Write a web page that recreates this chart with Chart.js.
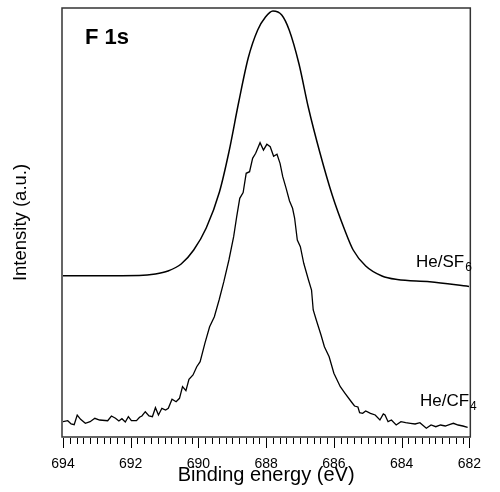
<!doctype html>
<html lang="en">
<meta charset="utf-8">

<head>
    <script src="https://cdn.jsdelivr.net/npm/chart.js"></script>
</head>

<style>
    body {
        margin: 0;
        background: #fff;
    }

    #wrap {
        width: 500px;
        height: 492px;
    }
</style>

<body>

    <div id="wrap">
        <canvas id="xpsChart" width="500" height="492"></canvas>
    </div>

    <script>
        // F 1s spectra, binding energy (eV) vs intensity (a.u.)
        const sf6Energy = [694.0, 692.96, 691.75, 691.27, 690.90, 690.51, 690.14, 689.77, 689.38, 689.10,
            688.81, 688.53, 688.25, 688.02, 687.80, 687.54, 687.32, 687.03, 686.75, 686.41,
            686.05, 685.68, 685.43, 685.06, 684.58, 684.13, 683.17, 682.01];
        const sf6Intensity = [161.3, 161.3, 161.5, 163, 166, 173, 187, 209, 245, 285,
            335, 379, 407, 420, 426, 422, 407, 373, 329, 284,
            242, 207, 187, 171, 161, 157.5, 155.3, 150.5];

        const cf4Energy = [694.00, 693.86, 693.76, 693.67, 693.58, 693.48, 693.34, 693.20, 693.06, 692.92,
            692.68, 692.57, 692.45, 692.35, 692.26, 692.16, 692.07, 691.98, 691.83, 691.74,
            691.67, 691.57, 691.46, 691.36, 691.27, 691.18, 691.08, 690.97, 690.89, 690.78,
            690.66, 690.56, 690.47, 690.37, 690.28, 690.16, 690.05, 689.95, 689.81, 689.67,
            689.53, 689.39, 689.25, 689.10, 688.96, 688.87, 688.78, 688.68, 688.59, 688.49,
            688.40, 688.31, 688.18, 688.08, 687.98, 687.88, 687.78, 687.68, 687.59, 687.51,
            687.41, 687.31, 687.22, 687.16, 687.08, 686.99, 686.89, 686.75, 686.66, 686.61,
            686.52, 686.38, 686.28, 686.14, 686.00, 685.81, 685.67, 685.48, 685.39, 685.29,
            685.24, 685.15, 685.06, 684.92, 684.78, 684.64, 684.54, 684.49, 684.40, 684.30,
            684.16, 684.02, 683.88, 683.74, 683.60, 683.46, 683.27, 683.13, 682.99, 682.85,
            682.71, 682.57, 682.47, 682.33, 682.19, 682.05];
        const cf4Intensity = [15.3, 16.3, 13.0, 12.3, 22.0, 17.7, 13.7, 15.3, 18.7, 17.0,
            16.3, 21.0, 18.7, 16.0, 18.3, 15.0, 20.3, 16.3, 16.3, 19.7,
            21.0, 25.3, 21.0, 20.3, 29.3, 22.0, 28.7, 27.0, 28.7, 37.7,
            35.3, 38.7, 50.3, 46.3, 57.7, 62.0, 70.3, 75.3, 93.7, 110.3,
            120.3, 137.0, 155.3, 177.0, 200.3, 220.3, 238.7, 244.5, 263.7, 265.3,
            278.7, 283.7, 294.3, 287.0, 292.7, 290.3, 280.7, 282.8, 273.7, 260.3,
            248.7, 236.0, 228.7, 219.0, 197.0, 190.3, 173.7, 157.0, 147.0, 127.0,
            117.0, 102.0, 90.3, 80.3, 63.7, 50.3, 43.7, 35.0, 31.0, 30.0,
            24.3, 23.7, 26.0, 23.7, 22.0, 17.0, 23.0, 22.0, 15.3, 17.0,
            12.0, 15.3, 14.3, 13.7, 13.0, 14.3, 8.7, 12.0, 10.3, 12.0,
            11.0, 12.7, 13.7, 12.0, 11.0, 9.7];

        const tickLabels = [694, 692, 690, 688, 686, 684, 682];

        const FONT = "'Liberation Sans', Arial, sans-serif";

        function toPoints(xs, ys) {
            return xs.map((x, i) => ({ x: x, y: ys[i] }));
        }

        // frame, minor ticks and the in-plot labels
        const decor = {
            id: 'decor',
            afterDraw(chart) {
                const ctx = chart.ctx;
                const a = chart.chartArea;
                const xs = chart.scales.x;
                ctx.save();

                ctx.strokeStyle = '#333';
                ctx.lineWidth = 1.5;
                ctx.strokeRect(a.left - 1, a.top, a.right - a.left + 2, a.bottom - a.top);

                ctx.strokeStyle = '#000';
                ctx.lineWidth = 1;
                for (let i = 0; i <= 60; i++) {
                    const v = 682 + i * 0.2;
                    const px = Math.round(xs.getPixelForValue(v)) + 0.5;
                    const len = (i % 10 === 0) ? 10 : 6;
                    ctx.beginPath();
                    ctx.moveTo(px, a.bottom + 1);
                    ctx.lineTo(px, a.bottom + 1 + len);
                    ctx.stroke();
                }

                ctx.fillStyle = '#000';
                ctx.textBaseline = 'alphabetic';
                ctx.textAlign = 'left';
                ctx.font = 'bold 22px ' + FONT;
                ctx.fillText('F 1s', 85, 43.5);

                ctx.font = '17px ' + FONT;
                ctx.fillText('He/SF', 416, 266.5);
                let w = ctx.measureText('He/SF').width;
                ctx.font = '12px ' + FONT;
                ctx.fillText('6', 416 + w + 1, 270.5);

                ctx.font = '17px ' + FONT;
                ctx.fillText('He/CF', 420, 406);
                w = ctx.measureText('He/CF').width;
                ctx.font = '12px ' + FONT;
                ctx.fillText('4', 420 + w + 1, 410);

                ctx.restore();
            }
        };

        const chartData = {
            datasets: [
                {
                    label: 'He/SF6',
                    data: toPoints(sf6Energy, sf6Intensity),
                    borderColor: '#000',
                    borderWidth: 1.5,
                    pointRadius: 0,
                    cubicInterpolationMode: 'monotone',
                    fill: false
                },
                {
                    label: 'He/CF4',
                    data: toPoints(cf4Energy, cf4Intensity),
                    borderColor: '#000',
                    borderWidth: 1.3,
                    pointRadius: 0,
                    tension: 0,
                    fill: false
                }
            ]
        };

        const config = {
            type: 'line',
            data: chartData,
            options: {
                responsive: false,
                animation: false,
                layout: {
                    padding: { top: 8, right: 12, left: 0, bottom: 0 }
                },
                plugins: {
                    legend: { display: false },
                    tooltip: { enabled: false }
                },
                scales: {
                    x: {
                        type: 'linear',
                        min: 682,
                        max: 694,
                        reverse: true,
                        afterFit: (scale) => { scale.height = 55; },
                        afterBuildTicks: (scale) => {
                            scale.ticks = tickLabels.map(v => ({ value: v }));
                        },
                        grid: { display: false, drawTicks: false },
                        border: { display: false },
                        ticks: {
                            padding: 19,
                            maxRotation: 0,
                            autoSkip: false,
                            color: '#000',
                            font: { family: FONT, size: 14 },
                            callback: (v) => String(v)
                        },
                        title: {
                            display: true,
                            text: 'Binding energy (eV)',
                            color: '#000',
                            font: { family: FONT, size: 20 },
                            padding: { top: 0, bottom: 5 }
                        }
                    },
                    y: {
                        min: 0,
                        max: 429,
                        afterFit: (scale) => { scale.width = 63; },
                        grid: { display: false },
                        border: { display: false },
                        ticks: { display: false },
                        title: {
                            display: true,
                            text: 'Intensity (a.u.)',
                            color: '#000',
                            font: { family: FONT, size: 18.5 },
                            padding: { top: 10, bottom: 0 }
                        }
                    }
                }
            },
            plugins: [decor]
        };

        new Chart(document.getElementById('xpsChart'), config);
    </script>
</body>

</html>
